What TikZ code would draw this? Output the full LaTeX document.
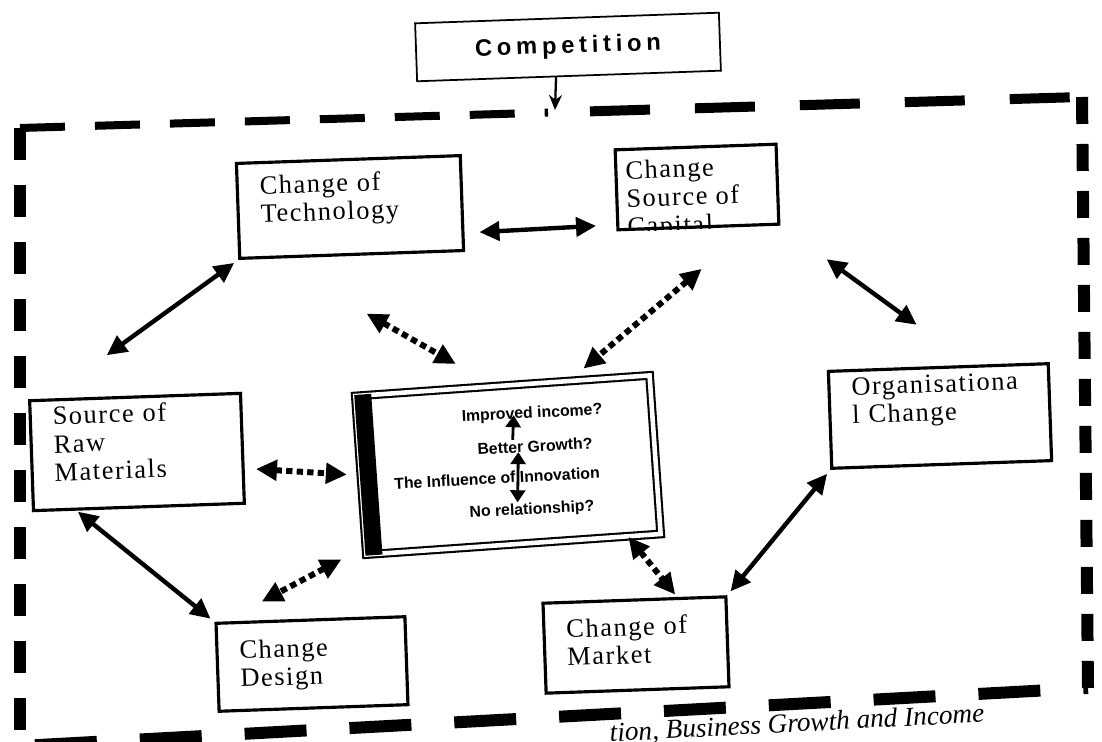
\documentclass[tikz,border=0pt]{standalone}
\usepackage{fontspec}
\setmainfont{Liberation Serif}
\newfontfamily\boxfont[LetterSpace=6]{Liberation Serif}
\newfontfamily\headfont[LetterSpace=20]{Liberation Sans}
\newfontfamily\qfont{Liberation Sans}
\usetikzlibrary{arrows.meta,calc}

\begin{document}
\begin{tikzpicture}[x=0.02cm, y=-0.02cm,
	factor/.style={draw, line width=1.8pt, rotate=2, align=left, inner xsep=0.45cm, font=\boxfont\fontsize{15}{16}\selectfont},
	headbox/.style={draw, line width=1pt, rotate=2, font=\headfont\bfseries\fontsize{13.5}{14}\selectfont},
	qtext/.style={inner sep=0pt, rotate=3, font=\qfont\bfseries\fontsize{9}{10}\selectfont},
	link/.style={{Triangle[length=0.4cm,width=0.38cm]}-{Triangle[length=0.4cm,width=0.38cm]}, line width=2.5pt},
	dotlink/.style={{Triangle[length=0.42cm,width=0.4cm]}-{Triangle[length=0.42cm,width=0.4cm]}, line width=3.4pt, dash pattern=on 3.6pt off 2.4pt},
	qlink/.style={line width=1.6pt},
	bigframe/.style={line width=0.24cm}]
	%\draw[help lines] (0,0) grid (1102,742);
	\path[fill=white, use as bounding box] (0,0) rectangle (1102,742);

	\node[headbox, minimum width=6.08cm, minimum height=1.16cm] (competition) at (568,47) {Competition};

	\node[factor, minimum width=4.48cm, minimum height=1.9cm, text width=3.58cm, text depth=1.0cm] (tech) at (350,207) {Change of\\Technology};
	\node[factor, minimum width=3.22cm, minimum height=1.6cm] (capital) at (697,187) {};
	\begin{scope}
		\clip (capital.north west) -- (capital.north east) -- (capital.south east) -- (capital.south west) -- cycle;
		\node[factor, draw=none, anchor=north west, inner sep=0pt] (capitaltext) at ($(capital.north west)+(10,11)$) {Change\\Source of\\Capital};
	\end{scope}
	\node[factor, minimum width=4.22cm, minimum height=2.2cm, text width=3.32cm, text depth=1.57cm] (raw) at (137,452) {Source of\\Raw\\Materials};
	\node[factor, minimum width=4.4cm, minimum height=1.94cm, text width=3.5cm, text depth=1.3cm] (org) at (940,416) {Organisationa\\l Change};
	\node[factor, minimum width=3.78cm, minimum height=1.76cm, text width=2.88cm] (design) at (312,664) {Change\\Design};
	\node[factor, minimum width=3.66cm, minimum height=1.8cm, text width=2.76cm, text depth=0.76cm] (market) at (636,645) {Change of\\Market};

	% centre frame
	\node[draw, double, line width=1.2pt, double distance=2.6pt, rotate=4, minimum width=5.9cm, minimum height=3.18cm] (centre) at (508,465) {};
	\fill (centre.north west) -- ($(centre.north west)!0.34cm!(centre.north east)$) -- ($(centre.south west)!0.34cm!(centre.south east)$) -- (centre.south west) -- cycle;
	\node[qtext] (improved) at (532,414) {Improved income?};
	\node[qtext] (better) at (535,446) {Better Growth?};
	\node[qtext] (influence) at (497,478) {The Influence of Innovation};
	\node[qtext] (norel) at (532,510) {No relationship?};
	\draw[qlink, -{Triangle[length=0.24cm,width=0.3cm]}, shorten >=-0.13cm] ([xshift=-0.44cm]better.north) -- ([xshift=-0.38cm]improved.south);
	\draw[qlink, {Triangle[length=0.24cm,width=0.3cm]}-{Triangle[length=0.24cm,width=0.3cm]}] ([xshift=-0.34cm]better.south) -- ([xshift=-0.28cm]norel.north);

	% outer frame
	\coordinate (ftl) at (20,128);
	\coordinate (ftm) at (548,112.6);
	\coordinate (ftr) at (1082,97);
	\coordinate (fbr) at (1088,688);
	\coordinate (fbl) at (20,746);
	\coordinate (hit) at (555,110);
	\draw[bigframe, line width=0.16cm, dash pattern=on 0.9cm off 0.6cm] (ftl) -- (ftm);
	\draw[bigframe, line width=0.2cm, dash pattern=on 1.2cm off 0.9cm, dash phase=1.26cm] (ftm) -- (ftr);
	\draw[bigframe, dash pattern=on 0.54cm off 0.4cm] (ftr) -- (fbr);
	\draw[bigframe, dash pattern=on 1.24cm off 0.86cm, dash phase=1.8cm] (fbl) -- (fbr);
	\draw[bigframe, dash pattern=on 0.64cm off 0.5cm] (ftl) -- (fbl);

	\draw[line width=1.3pt, -{Stealth[length=0.3cm,width=0.26cm]}] ([xshift=-0.26cm]competition.south) -- (hit);

	\draw[link, shorten <=0.32cm, shorten >=0.38cm] ([yshift=-0.6cm]tech.east) -- ([yshift=-0.7cm]capital.west);
	\draw[link, shorten <=0.1cm, shorten >=1.5cm] (tech.south west) -- ([xshift=0.36cm]raw.north west);
	\draw[link, shorten <=1.14cm, shorten >=1.4cm] (capital.south east) -- ([xshift=0.7cm]org.north);
	\draw[link, shorten <=0.1cm, shorten >=0.1cm] ([xshift=-1.3cm]raw.south) -- (design.north west);
	\draw[link, shorten <=0.1cm, shorten >=0.1cm] (org.south west) -- (market.north east);

	\draw[dotlink, shorten <=2.34cm, shorten >=0.84cm] ([xshift=-1.74cm]tech.south) -- ([xshift=-0.2cm]centre.north);
	\draw[dotlink, shorten <=1.25cm, shorten >=0.5cm] ([xshift=1.02cm]capital.south) -- ([xshift=1.24cm]centre.north);
	\draw[dotlink, shorten <=0.24cm, shorten >=0.26cm] ([yshift=-0.4cm]raw.east) -- (centre.west);
	\draw[dotlink, shorten <=0.16cm, shorten >=0.87cm] ([xshift=-0.34cm]centre.south west) -- ([xshift=0.18cm]design.north west);
	\draw[dotlink, shorten <=0.05cm, shorten >=0.1cm] ([xshift=-0.7cm]centre.south east) -- ([xshift=0.88cm]market.north);

	\node[font=\itshape\fontsize{15.5}{16}\selectfont, rotate=3, anchor=base east, inner sep=0pt] (caption) at (985,722) {tion, Business Growth and Income};
\end{tikzpicture}
\end{document}
